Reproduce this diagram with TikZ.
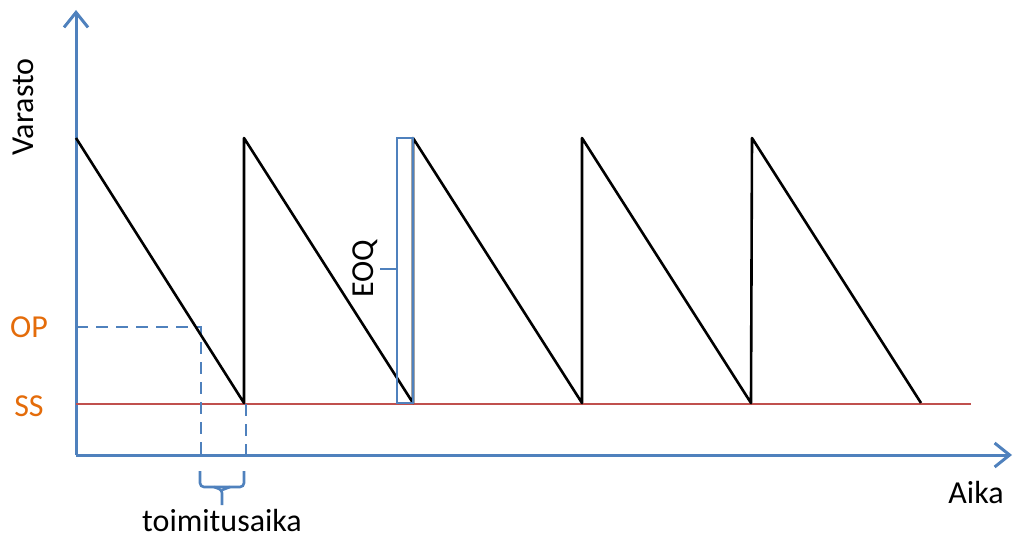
\documentclass[tikz,border=0pt]{standalone}
\usepackage{fontspec}
\setmainfont{Carlito}
\usetikzlibrary{arrows.meta,positioning}
\definecolor{axisblue}{RGB}{79,129,189}
\definecolor{ssred}{RGB}{192,80,77}
\definecolor{lborange}{RGB}{228,108,10}

\begin{document}
\begin{tikzpicture}[x=1pt,y=-1pt,
    axis/.style={axisblue,line width=3pt,-{Straight Barb[length=15pt,width=24pt,line width=3pt]}},
    stock/.style={black,line width=2.6pt,line join=round},
    guide/.style={axisblue,line width=2.6pt,dash pattern=on 12pt off 8pt},
    txt/.style={font=\fontsize{32}{35}\selectfont},
    lvl/.style={txt,lborange}]
  \useasboundingbox (0,0) rectangle (1018,543);
  % axes
  \coordinate (O) at (76,455);
  \draw[axis] (O) -- (76,10) coordinate (ytop);
  \draw[axis] (O) -- (1012,455) coordinate (xend);
  \node[txt,rotate=90] (vlab) at (23,107) {Varasto};
  \node[txt] (alab) at (976,493) {Aika};
  % safety stock and order point
  \coordinate (ss0) at (76,404);
  \draw[ssred,line width=2.6pt] (ss0) -- (971,404);
  \node[lvl] (sslab) at (29,406) {SS};
  \node[lvl] (oplab) at (29,327) {OP};
  \coordinate (op0) at (76,327);
  \coordinate (op1) at (201,327);
  \draw[guide] (op0) -- (op1) -- (201,455) coordinate (lt0);
  \draw[guide] (246,404) -- (246,455) coordinate (lt1);
  % sawtooth
  \draw[stock] (76,138) -- (244,403)
    \foreach \x in {244,413,582,752} {
      -- (\x,138) -- (\x+169,403)
    };
  % EOQ bracket
  \draw[axisblue,line width=2.4pt] (397,138) rectangle (413,403);
  \draw[axisblue,line width=2.4pt] (397,269) -- (380,269) coordinate (eoqtick);
  \node[txt,rotate=90,anchor=south,inner sep=2pt] (eoqlab) at (eoqtick) {EOQ};
  % lead time brace
  \draw[axisblue,line width=2.6pt,rounded corners=4pt]
    (200,471) -- (200,487) -- (244,487) -- (244,471);
  \draw[axisblue,line width=2.6pt,rounded corners=3pt]
    (214,487) -- (222,490) -- (222,505) coordinate (ltmid);
  \draw[axisblue,line width=2.6pt,rounded corners=3pt]
    (230,487) -- (222,490);
  \node[txt] (ltlab) at (222,521) {toimitusaika};
\end{tikzpicture}
\end{document}
